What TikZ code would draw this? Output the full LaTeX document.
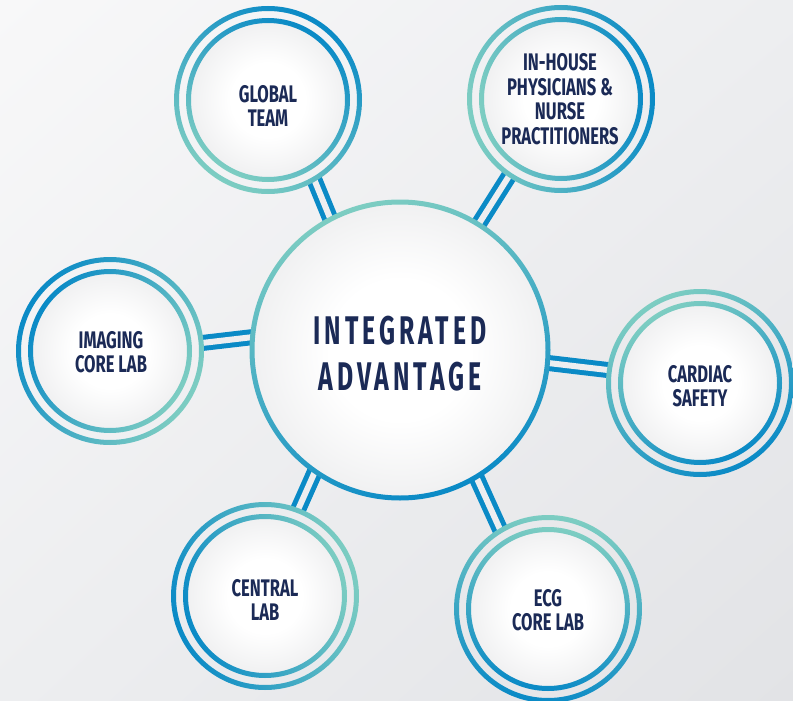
\documentclass[tikz,border=0pt]{standalone}
\usepackage{fontspec}
\usetikzlibrary{shadings}
\newfontfamily\dinfont[FakeStretch=0.69]{Fira Sans}
\newfontfamily\dinwide[FakeStretch=0.62,LetterSpace=10]{Fira Sans}
\definecolor{tealC}{HTML}{7DCDC2}
\definecolor{blueC}{HTML}{0A8AC6}
\definecolor{navy}{HTML}{1B2A56}
\definecolor{bgA}{HTML}{F8F8F9}
\definecolor{bgB}{HTML}{EDEEF0}
\definecolor{bgC}{HTML}{E2E3E6}
\definecolor{linkGap}{HTML}{EDEEF0}
\definecolor{discEdge}{HTML}{D4D5D8}
\pgfdeclareradialshading{disc}{\pgfpoint{0bp}{0bp}}{color(0bp)=(white); color(12bp)=(white); color(50bp)=(discEdge)}
\tikzset{
  hub/.style={circle, minimum size=296pt, inner sep=0pt, outer sep=0pt},
  sat/.style={circle, minimum size=188pt, inner sep=0pt, outer sep=0pt},
  lbl/.style={align=center, text=navy, inner sep=0pt, font=\dinfont\bfseries\fontsize{24}{24.5}\selectfont},
  hublbl/.style={align=center, text=navy, inner sep=0pt, font=\dinwide\bfseries\fontsize{40}{46}\selectfont},
  link/.style={draw=blueC, line width=5pt, double=linkGap, double distance=6pt, shorten <=-3pt, shorten >=-2pt},
  ring/.style={even odd rule, top color=blueC, bottom color=tealC, shading angle=#1}
}
\newcommand\satdraw[2]{%
  \shade[shading=disc] (#1) circle[radius=77pt];
  \shade[ring=#2] (#1) circle[radius=94pt] (#1) circle[radius=89pt];
  \shade[ring=#2] (#1) circle[radius=82pt] (#1) circle[radius=77pt];}
\begin{document}
\begin{tikzpicture}[x=1pt,y=-1pt]
\shade[upper left=bgA, upper right=bgB, lower left=bgB, lower right=bgC] (0,0) rectangle (793,701);
\useasboundingbox (0,0) rectangle (793,701);
% nodes
\node[hub] (hub) at (400,350) {};
\node[sat] (gt) at (268,100) {};
\node[sat] (ih) at (561,99) {};
\node[sat] (im) at (110,351) {};
\node[sat] (cs) at (700,383) {};
\node[sat] (cl) at (265,596) {};
\node[sat] (ecg) at (548,609) {};
% connectors
\draw[link] (hub.118) -- (gt.-60);
\draw[link] (hub.58) -- (ih.-124);
\draw[link] (hub.175) -- (im.5);
\draw[link] (hub.-5) -- (cs.172);
\draw[link] (hub.-125) -- (cl.69);
\draw[link] (hub.-59) -- (ecg.121);
% hub
\shade[shading=disc] (hub) circle[radius=146pt];
\shade[ring=-160] (hub) circle[radius=150.5pt] (hub) circle[radius=145.5pt];
% satellites
\satdraw{gt}{-30}
\satdraw{ih}{-80}
\satdraw{im}{60}
\satdraw{cs}{-150}
\satdraw{cl}{110}
\satdraw{ecg}{170}
% labels
\node[hublbl] (hubT) at (400,354) {INTEGRATED\\ADVANTAGE};
\node[lbl] (gtT) at (268,106) {GLOBAL\\TEAM};
\node[lbl] (ihT) at (560,99) {IN-HOUSE\\PHYSICIANS \&\\NURSE\\PRACTITIONERS};
\node[lbl] (imT) at (111,352) {IMAGING\\CORE LAB};
\node[lbl] (csT) at (700,386) {CARDIAC\\SAFETY};
\node[lbl] (clT) at (265,600) {CENTRAL\\LAB};
\node[lbl] (ecgT) at (548,610) {ECG\\CORE LAB};
\end{tikzpicture}
\end{document}
